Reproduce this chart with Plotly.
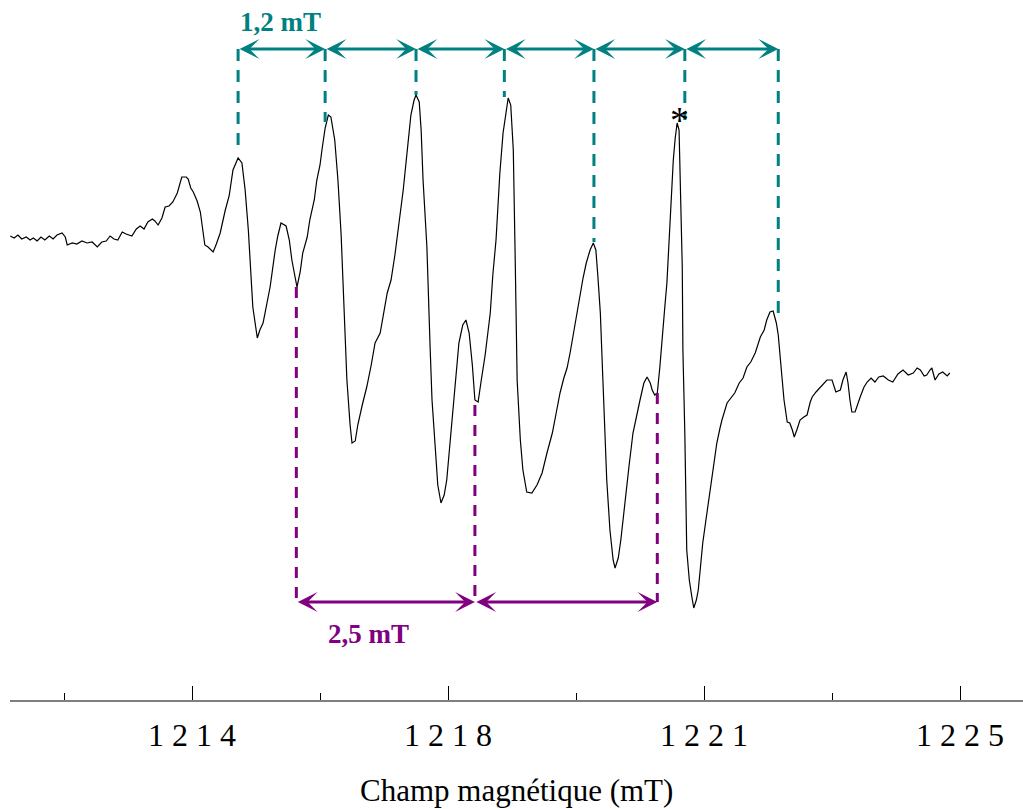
import plotly.graph_objects as go

# EPR spectrum trace (field in mT, intensity in arbitrary units)
field = [1211.16, 1211.22, 1211.28, 1211.34, 1211.41, 1211.47, 1211.52, 1211.58, 1211.64, 1211.70,
         1211.77, 1211.83, 1211.89, 1211.97, 1212.02, 1212.05, 1212.13, 1212.20, 1212.28, 1212.36,
         1212.44, 1212.52, 1212.59, 1212.66, 1212.72, 1212.78, 1212.84, 1212.91, 1212.97, 1213.06,
         1213.13, 1213.19, 1213.25, 1213.31, 1213.38, 1213.42, 1213.47, 1213.53, 1213.58, 1213.64,
         1213.70, 1213.77, 1213.84, 1213.91, 1213.94, 1213.98, 1214.02, 1214.08, 1214.13, 1214.17,
         1214.20, 1214.25, 1214.30, 1214.33, 1214.38, 1214.44, 1214.52, 1214.58, 1214.64, 1214.72,
         1214.78, 1214.83, 1214.88, 1214.92, 1214.95, 1215.02, 1215.06, 1215.11, 1215.17, 1215.22,
         1215.30, 1215.34, 1215.39, 1215.47, 1215.52, 1215.56, 1215.64, 1215.69, 1215.73, 1215.80,
         1215.84, 1215.91, 1215.95, 1216.00, 1216.03, 1216.08, 1216.13, 1216.17, 1216.23, 1216.28,
         1216.33, 1216.36, 1216.39, 1216.42, 1216.47, 1216.50, 1216.55, 1216.59, 1216.66, 1216.73,
         1216.80, 1216.86, 1216.94, 1217.00, 1217.05, 1217.11, 1217.17, 1217.23, 1217.30, 1217.38,
         1217.42, 1217.47, 1217.50, 1217.55, 1217.58, 1217.61, 1217.64, 1217.67, 1217.72, 1217.75,
         1217.80, 1217.84, 1217.89, 1217.94, 1217.98, 1218.03, 1218.08, 1218.13, 1218.17, 1218.23,
         1218.28, 1218.33, 1218.38, 1218.42, 1218.47, 1218.52, 1218.58, 1218.66, 1218.70, 1218.75,
         1218.81, 1218.86, 1218.91, 1218.94, 1218.98, 1219.02, 1219.05, 1219.08, 1219.13, 1219.17,
         1219.23, 1219.31, 1219.39, 1219.47, 1219.55, 1219.63, 1219.69, 1219.75, 1219.81, 1219.86,
         1219.91, 1219.95, 1220.02, 1220.06, 1220.11, 1220.16, 1220.22, 1220.27, 1220.31, 1220.34,
         1220.38, 1220.42, 1220.45, 1220.48, 1220.53, 1220.58, 1220.61, 1220.66, 1220.70, 1220.77,
         1220.83, 1220.89, 1220.95, 1221.00, 1221.06, 1221.11, 1221.16, 1221.19, 1221.23, 1221.27,
         1221.31, 1221.36, 1221.39, 1221.42, 1221.47, 1221.52, 1221.55, 1221.58, 1221.61, 1221.63,
         1221.66, 1221.67, 1221.70, 1221.73, 1221.77, 1221.81, 1221.84, 1221.88, 1221.91, 1221.94,
         1221.98, 1222.03, 1222.09, 1222.16, 1222.20, 1222.25, 1222.28, 1222.36, 1222.42, 1222.48,
         1222.55, 1222.61, 1222.67, 1222.73, 1222.80, 1222.88, 1222.94, 1222.98, 1223.03, 1223.08,
         1223.13, 1223.16, 1223.19, 1223.22, 1223.25, 1223.30, 1223.34, 1223.38, 1223.41, 1223.45,
         1223.50, 1223.56, 1223.61, 1223.66, 1223.69, 1223.75, 1223.81, 1223.88, 1223.92, 1224.00,
         1224.03, 1224.06, 1224.13, 1224.17, 1224.22, 1224.25, 1224.28, 1224.31, 1224.36, 1224.41,
         1224.44, 1224.50, 1224.55, 1224.61, 1224.67, 1224.73, 1224.80, 1224.88, 1224.95, 1225.03,
         1225.11, 1225.19, 1225.27, 1225.33, 1225.38, 1225.44, 1225.48, 1225.53, 1225.56, 1225.61,
         1225.67, 1225.73, 1225.80, 1225.84]

intensity = [4, 2, 5, 1, 3, 0, 2, -1, 3, 0,
             4, 1, 5, 7, 3, -5, -3, -4, -1, -3,
             -2, -7, -2, -1, 4, 1, 0, 8, 6, 4,
             11, 14, 11, 18, 21, 19, 15, 22, 33, 34,
             38, 47, 63, 63, 61, 52, 48, 39, 28, 10,
             -5, -7, -10, -12, -4, 7, 30, 44, 70, 82,
             77, 50, 10, -40, -67, -98, -90, -83, -65, -47,
             -10, 4, 17, 14, 0, -20, -47, -32, -13, 3,
             20, 40, 60, 75, 90, 112, 125, 123, 100, 60,
             5, -40, -90, -140, -185, -203, -201, -185, -165, -147,
             -125, -103, -93, -73, -53, -40, -15, 15, 50, 100,
             125, 140, 145, 138, 110, 60, 25, -7, -107, -160,
             -207, -245, -263, -255, -240, -205, -173, -135, -103, -85,
             -80, -93, -125, -160, -162, -140, -115, -73, -35, 0,
             67, 107, 132, 142, 135, 90, -20, -140, -200, -230,
             -252, -253, -245, -233, -212, -193, -173, -153, -138, -128,
             -112, -97, -75, -57, -38, -23, -10, -3, -10, -35,
             -73, -140, -190, -240, -290, -320, -328, -318, -300, -257,
             -225, -193, -173, -160, -143, -137, -143, -150, -155, -153,
             -127, -93, -65, -43, 23, 80, 102, 117, 110, 60,
             -27, -110, -193, -310, -340, -357, -368, -360, -350, -330,
             -303, -280, -253, -225, -203, -188, -180, -163, -158, -153,
             -143, -138, -127, -122, -113, -97, -90, -80, -72, -71,
             -83, -95, -117, -140, -160, -182, -183, -190, -197, -190,
             -180, -177, -175, -162, -157, -152, -148, -143, -140, -140,
             -147, -152, -150, -140, -132, -143, -160, -172, -172, -162,
             -157, -147, -142, -138, -142, -137, -136, -140, -142, -134,
             -130, -135, -133, -128, -130, -136, -135, -130, -128, -140,
             -134, -132, -136, -133]

# Hyperfine markers (teal, 1,2 mT spacing)
teal_field = [1214.72, 1216.08, 1217.50, 1218.88, 1220.28, 1221.70, 1223.16]
teal_peak = [93, 118, 145, 143, -2, 120, -73]
teal_level = 191

# Second set of markers (purple, 2,5 mT spacing)
purple_field = [1215.63, 1218.42, 1221.27]
purple_peak = [-47, -165, -153]
purple_level = -362

# Axis ticks
major_ticks = [1214, 1218, 1222, 1226]
major_labels = ["1 2 1 4", "1 2 1 8", "1 2 2 1", "1 2 2 5"]
minor_ticks = [1212, 1216, 1220, 1224]

TEAL = "#008080"
PURPLE = "#800080"
SERIF = "Liberation Serif, Times New Roman, serif"

fig = go.Figure()
fig.add_trace(go.Scatter(x=field, y=intensity, mode="lines",
                         line=dict(color="black", width=1.2), showlegend=False,
                         hoverinfo="skip"))

shapes = []
for fx, fy in zip(teal_field, teal_peak):
    shapes.append(dict(type="line", xref="x", yref="y", x0=fx, x1=fx, y0=teal_level, y1=fy,
                       line=dict(color=TEAL, width=3, dash="12px,9px")))
for fx, fy in zip(purple_field, purple_peak):
    shapes.append(dict(type="line", xref="x", yref="y", x0=fx, x1=fx, y0=fy, y1=purple_level,
                       line=dict(color=PURPLE, width=3, dash="11px,9px")))

annotations = []
for a, b in zip(teal_field[:-1], teal_field[1:]):
    annotations.append(dict(x=b, y=teal_level, ax=a, ay=teal_level, xref="x", yref="y",
                            axref="x", ayref="y", text="", showarrow=True, arrowhead=3,
                            startarrowhead=3, arrowside="end+start", arrowsize=1.1,
                            startarrowsize=1.1, arrowwidth=3, arrowcolor=TEAL,
                            standoff=0, startstandoff=0))
for a, b in zip(purple_field[:-1], purple_field[1:]):
    annotations.append(dict(x=b, y=purple_level, ax=a, ay=purple_level, xref="x", yref="y",
                            axref="x", ayref="y", text="", showarrow=True, arrowhead=3,
                            startarrowhead=3, arrowside="end+start", arrowsize=1.1,
                            startarrowsize=1.1, arrowwidth=3, arrowcolor=PURPLE,
                            standoff=0, startstandoff=0))

annotations.append(dict(x=1215.38, y=218, xref="x", yref="y", text="<b>1,2 mT</b>",
                        showarrow=False, font=dict(family=SERIF, size=27, color=TEAL)))
annotations.append(dict(x=1216.75, y=-394, xref="x", yref="y", text="<b>2,5 mT</b>",
                        showarrow=False, font=dict(family=SERIF, size=27, color=PURPLE)))
annotations.append(dict(x=1221.61, y=120, xref="x", yref="y", text="*",
                        showarrow=False, font=dict(family=SERIF, size=38, color="black")))
annotations.append(dict(x=0.5, y=-0.129, xref="paper", yref="paper",
                        text="Champ magnétique (mT)", showarrow=False,
                        xanchor="center", yanchor="middle",
                        font=dict(family=SERIF, size=31, color="black")))

fig.update_layout(
    width=1023, height=809,
    margin=dict(l=10, r=0, t=0, b=109),
    paper_bgcolor="white", plot_bgcolor="white",
    shapes=shapes, annotations=annotations,
    xaxis=dict(range=[1211.156, 1226.984], showgrid=False, zeroline=False,
               showline=True, linecolor="#7f7f7f", linewidth=2,
               ticks="inside", ticklen=14, tickwidth=1, tickcolor="black",
               tickvals=major_ticks, ticktext=major_labels,
               tickfont=dict(family=SERIF, size=32, color="black"),
               ticklabelstandoff=6,
               minor=dict(tickvals=minor_ticks, ticks="inside", ticklen=7,
                          tickwidth=1, tickcolor="black", showgrid=False)),
    yaxis=dict(range=[-460, 240], visible=False),
)

fig.write_html("out.html", config={"displayModeBar": False},
               post_script="document.body.style.margin='0';document.body.style.overflow='hidden';")
